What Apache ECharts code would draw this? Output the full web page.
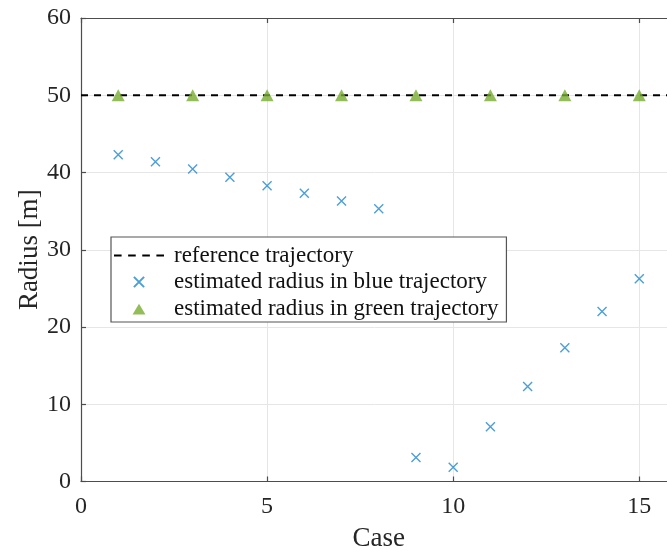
<!DOCTYPE html>
<html>
<head>
<meta charset="utf-8">
<script src="https://cdn.jsdelivr.net/npm/echarts@6/dist/echarts.min.js"></script>
<style>
  html, body { margin: 0; padding: 0; background: #fff; }
  #chart { width: 667px; height: 550px; }
</style>
</head>
<body>
<div id="chart"></div>
<script>
// Case numbers and estimated radii
const cases = [1, 2, 3, 4, 5, 6, 7, 8, 9, 10, 11, 12, 13, 14, 15];
const blueRadius = [42.3, 41.4, 40.45, 39.4, 38.3, 37.3, 36.3, 35.3, 3.1, 1.85, 7.1, 12.3, 17.3, 22.0, 26.25];
const greenCases = [1, 3, 5, 7, 9, 11, 13, 15];
const greenRadius = [50, 50, 50, 50, 50, 50, 50, 50];
const referenceRadius = 50;
const xRange = [0, 16];
const yRange = [0, 60];
const xTicks = [0, 5, 10, 15];
const yTicks = [0, 10, 20, 30, 40, 50, 60];

const FONT = 'Liberation Serif';
const AXIS_COLOR = '#4d4d4d';
const BLUE = '#1f86d0';
const GREEN = '#77ac30';

const chart = echarts.init(document.getElementById('chart'), null, { renderer: 'canvas' });

const blueData = cases.map((c, i) => [c, blueRadius[i]]);
const greenData = greenCases.map((c, i) => [c, greenRadius[i]]);
const refData = [[xRange[0], referenceRadius], [xRange[1], referenceRadius]];

// Marker shapes; the legend variants carry invisible move-to padding so they render smaller
const crossPath = 'path://M0,0L10,10M10,0L0,10';
const legendCross = 'path://M-1.5,-1.5M9.5,9.5M0,0L8,8M8,0L0,8';
const legendTriangle = 'path://M-0.5,-1M12.5,12M0,11L6,1L12,11Z';
const legendDashes = 'path://M0,0h7v2h-7zM13,0h7v2h-7zM26,0h7v2h-7zM39,0h7v2h-7z';

const baseAxis = {
  axisLine: { show: true, lineStyle: { color: AXIS_COLOR, width: 1.2 } },
  axisTick: { show: true, inside: true, length: 5, lineStyle: { color: AXIS_COLOR, width: 1.2 } },
  splitLine: { show: true, lineStyle: { color: '#e6e6e6', width: 1 } },
  axisLabel: { color: '#262626', fontFamily: FONT, fontSize: 24 }
};

chart.setOption({
  animation: false,
  backgroundColor: '#fff',
  grid: { left: 81, top: 18, right: -9.5, bottom: 68.5, containLabel: false, outerBoundsMode: 'none' },
  legend: {
    orient: 'vertical',
    left: 111,
    top: 237,
    padding: [7, 8, 2, 3],
    itemGap: 3.5,
    itemWidth: 50,
    itemHeight: 14,
    backgroundColor: '#fff',
    borderColor: '#555',
    borderWidth: 1.2,
    borderRadius: 0,
    textStyle: { fontFamily: FONT, fontSize: 23, color: '#111', padding: [0, 0, 0, 5] },
    data: [
      { name: 'reference trajectory', icon: legendDashes },
      { name: 'estimated radius in blue trajectory', icon: legendCross },
      { name: 'estimated radius in green trajectory', icon: legendTriangle }
    ]
  },
  xAxis: [
    Object.assign({}, baseAxis, {
      type: 'value', min: xRange[0], max: xRange[1], interval: 5,
      name: 'Case', nameLocation: 'middle', nameGap: 44,
      nameTextStyle: { fontFamily: FONT, fontSize: 27, color: '#262626' },
      axisLabel: Object.assign({}, baseAxis.axisLabel, {
        margin: 13,
        formatter: v => (xTicks.includes(v) ? String(v) : '')
      })
    }),
    {
      type: 'value', position: 'top', min: xRange[0], max: xRange[1], interval: 5,
      axisLine: { show: true, lineStyle: { color: AXIS_COLOR, width: 1.2 } },
      axisTick: { show: true, inside: true, length: 5, lineStyle: { color: AXIS_COLOR, width: 1.2 } },
      axisLabel: { show: false }, splitLine: { show: false }
    }
  ],
  yAxis: Object.assign({}, baseAxis, {
    type: 'value', min: yRange[0], max: yRange[1], interval: 10,
    name: 'Radius [m]', nameLocation: 'middle', nameGap: 38, nameMoveOverlap: false,
    nameTextStyle: { fontFamily: FONT, fontSize: 27, color: '#262626' },
    axisLabel: Object.assign({}, baseAxis.axisLabel, {
      margin: 10,
      formatter: v => (yTicks.includes(v) ? String(v) : '')
    })
  }),
  series: [
    {
      name: 'reference trajectory',
      type: 'line',
      data: refData,
      symbol: 'none',
      lineStyle: { color: '#000', width: 1.8, type: [7, 6] },
      itemStyle: { color: '#000' },
      z: 2
    },
    {
      name: 'estimated radius in blue trajectory',
      type: 'scatter',
      data: blueData,
      symbol: crossPath,
      symbolSize: 9,
      itemStyle: { color: 'transparent', borderColor: BLUE, borderWidth: 1.4 },
      z: 3
    },
    {
      name: 'estimated radius in green trajectory',
      type: 'scatter',
      data: greenData,
      symbol: 'triangle',
      symbolSize: [13, 12],
      itemStyle: { color: GREEN },
      z: 4
    }
  ]
});
</script>
</body>
</html>
